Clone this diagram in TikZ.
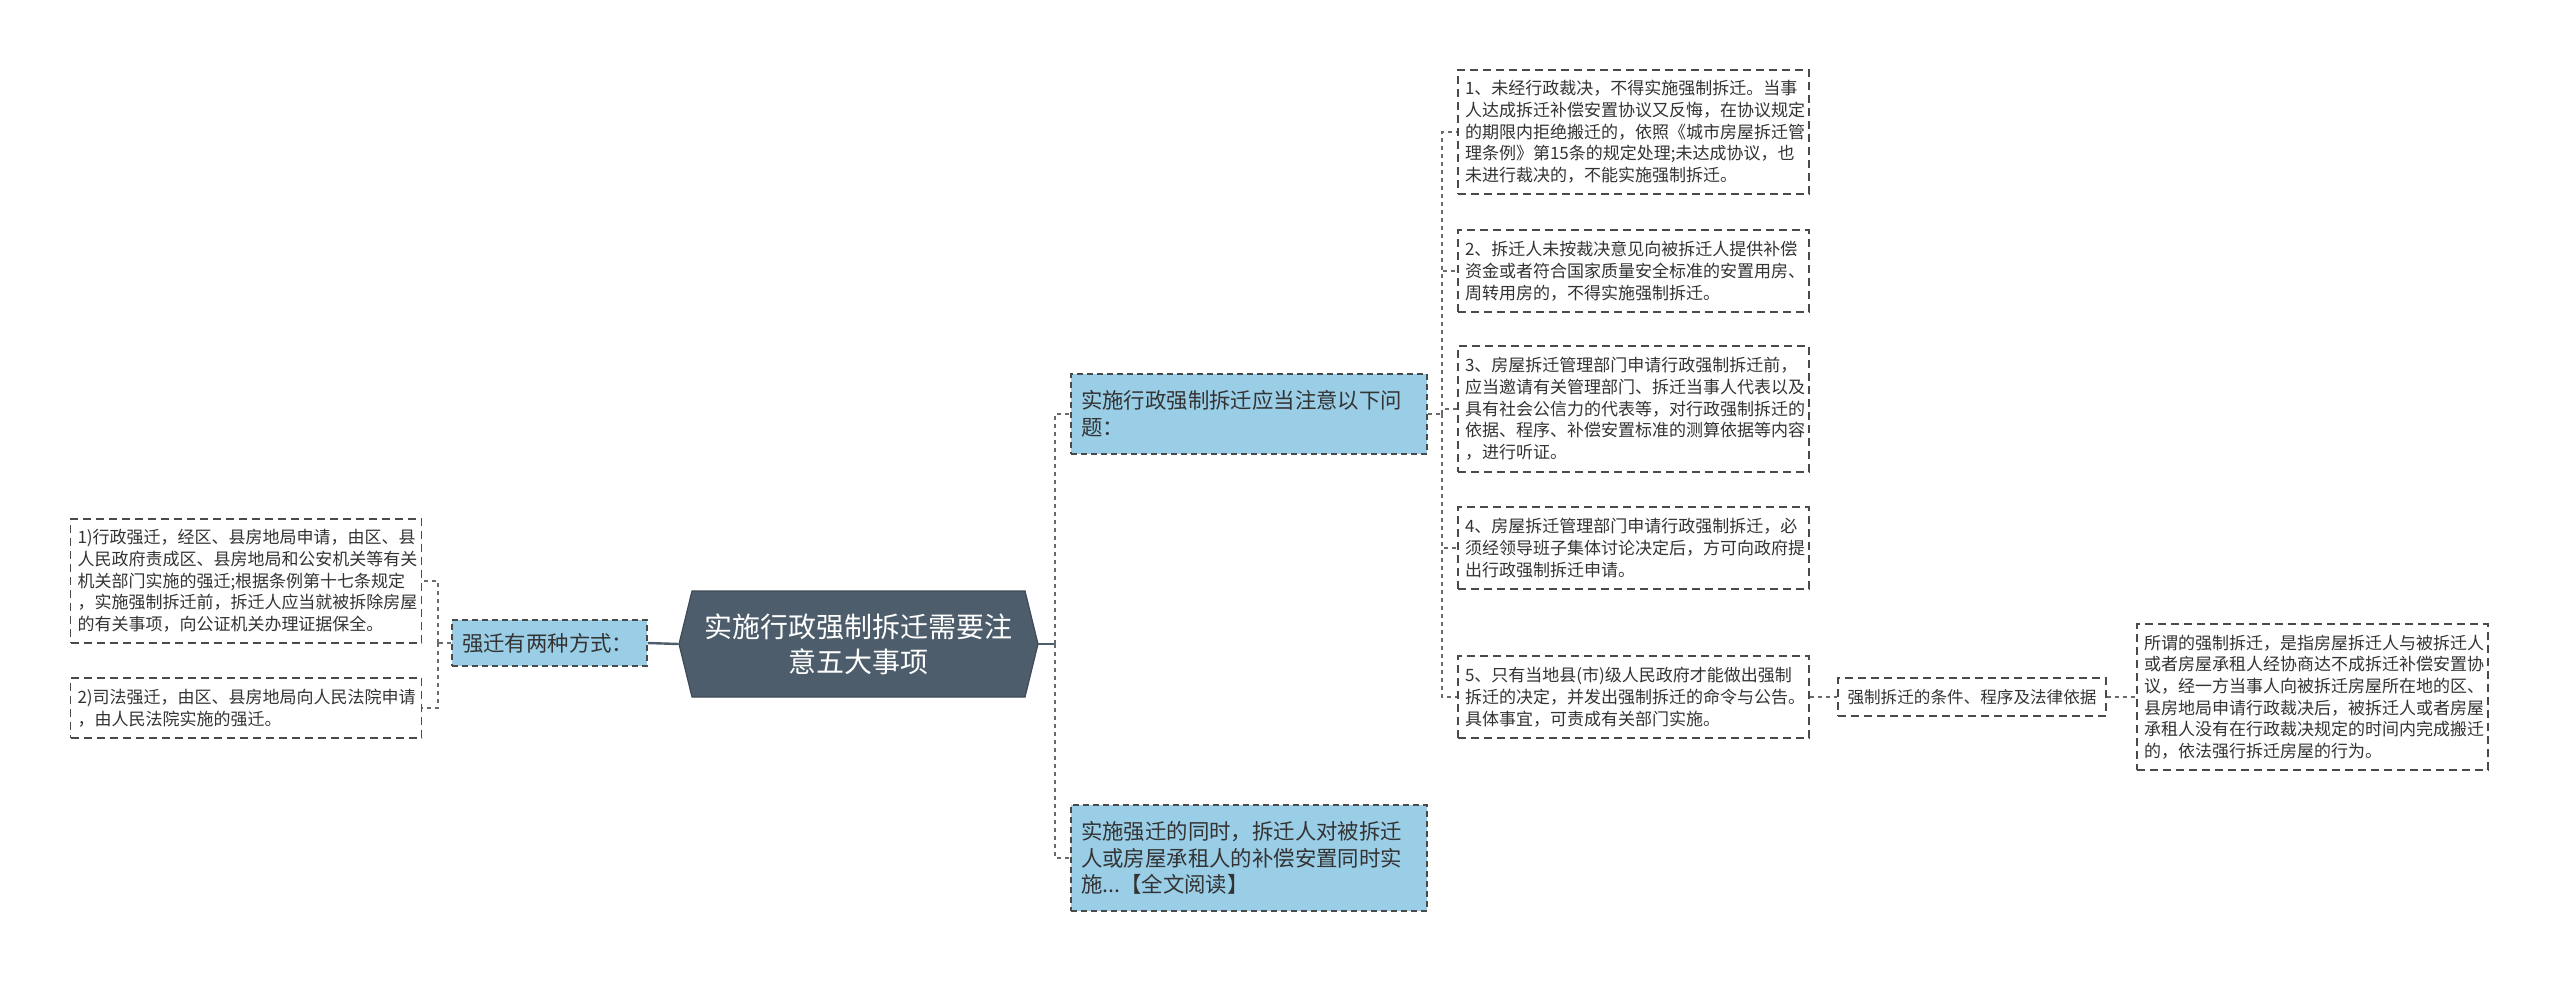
\documentclass[tikz,border=0pt]{standalone}
\usepackage{fontspec}
\newfontfamily\cjk{Noto Sans CJK SC}
\definecolor{centralfill}{HTML}{4E5D6C}
\definecolor{centralline}{HTML}{3E4A56}
\definecolor{branchfill}{HTML}{9ACDE6}
\definecolor{boxline}{HTML}{4A4A4A}
\definecolor{connc}{HTML}{6A6A6A}
\definecolor{textc}{HTML}{333333}
\begin{document}
\begin{tikzpicture}[x=0.5pt,y=-0.5pt,
  leaf/.style={draw=boxline, dash pattern=on 4pt off 2.5pt, line width=0.6pt, fill=white,
    text=textc, font=\cjk\fontsize{8.5}{10.85}\selectfont, align=left,
    text width=168.5pt, inner xsep=3.5pt, inner ysep=0pt, anchor=center},
  branch/.style={draw=boxline, dash pattern=on 3pt off 2pt, line width=0.6pt, fill=branchfill,
    text=textc, font=\cjk\fontsize{10.7}{13.4}\selectfont, align=left,
    inner xsep=5pt, inner ysep=0pt, anchor=center},
  topicbox/.style={draw=boxline, dash pattern=on 4pt off 2.5pt, line width=0.6pt, fill=white,
    text=textc, font=\cjk\fontsize{8.3}{10.5}\selectfont, inner xsep=3pt, inner ysep=0pt,
    minimum width=134pt, minimum height=19pt, anchor=center},
  conn/.style={draw=connc, line width=0.6pt, dash pattern=on 2pt off 2pt},
  mainline/.style={draw=centralfill, line width=1.2pt},
]
\useasboundingbox (0,0) rectangle (2560,985);

% central hexagon
\filldraw[fill=centralfill, draw=centralline, line width=0.6pt]
  (692,591) -- (1025,591) -- (1038,644) -- (1025,697) -- (692,697) -- (679,644) -- cycle;
\node[text=white, font=\cjk\fontsize{14}{17.5}\selectfont, align=center,
  minimum width=179.5pt, minimum height=53pt, inner sep=0pt] (c) at (858.5,644)
  {实施行政强制拆迁需要注\\意五大事项};

% left side
\node[branch, text width=87.5pt, minimum height=23pt] (q) at (549.5,643) {强迁有两种方式：};
\node[leaf, minimum height=62pt] (l1) at (246,581)
  {1)行政强迁，经区、县房地局申请，由区、县\\人民政府责成区、县房地局和公安机关等有关\\机关部门实施的强迁;根据条例第十七条规定\\，实施强制拆迁前，拆迁人应当就被拆除房屋\\的有关事项，向公证机关办理证据保全。};
\node[leaf, minimum height=30pt] (l2) at (246,708)
  {2)司法强迁，由区、县房地局向人民法院申请\\，由人民法院实施的强迁。};

% right branches
\node[branch, text width=168pt, minimum height=40pt] (b1) at (1249,414)
  {实施行政强制拆迁应当注意以下问\\题：};
\node[branch, text width=168pt, minimum height=53pt] (b2) at (1249,858)
  {实施强迁的同时，拆迁人对被拆迁\\人或房屋承租人的补偿安置同时实\\施...【全文阅读】};

% items
\node[leaf, minimum height=62pt] (i1) at (1633.5,132)
  {1、未经行政裁决，不得实施强制拆迁。当事\\人达成拆迁补偿安置协议又反悔，在协议规定\\的期限内拒绝搬迁的，依照《城市房屋拆迁管\\理条例》第15条的规定处理;未达成协议，也\\未进行裁决的，不能实施强制拆迁。};
\node[leaf, minimum height=41pt] (i2) at (1633.5,271)
  {2、拆迁人未按裁决意见向被拆迁人提供补偿\\资金或者符合国家质量安全标准的安置用房、\\周转用房的，不得实施强制拆迁。};
\node[leaf, minimum height=63pt] (i3) at (1633.5,409)
  {3、房屋拆迁管理部门申请行政强制拆迁前，\\应当邀请有关管理部门、拆迁当事人代表以及\\具有社会公信力的代表等，对行政强制拆迁的\\依据、程序、补偿安置标准的测算依据等内容\\，进行听证。};
\node[leaf, minimum height=41pt] (i4) at (1633.5,548)
  {4、房屋拆迁管理部门申请行政强制拆迁，必\\须经领导班子集体讨论决定后，方可向政府提\\出行政强制拆迁申请。};
\node[leaf, minimum height=41pt] (i5) at (1633.5,697)
  {5、只有当地县(市)级人民政府才能做出强制\\拆迁的决定，并发出强制拆迁的命令与公告。\\具体事宜，可责成有关部门实施。};

\node[topicbox] (t) at (1972,697) {强制拆迁的条件、程序及法律依据};
\node[leaf, minimum height=73pt] (d) at (2312.5,697)
  {所谓的强制拆迁，是指房屋拆迁人与被拆迁人\\或者房屋承租人经协商达不成拆迁补偿安置协\\议，经一方当事人向被拆迁房屋所在地的区、\\县房地局申请行政裁决后，被拆迁人或者房屋\\承租人没有在行政裁决规定的时间内完成搬迁\\的，依法强行拆迁房屋的行为。};

% junction coordinates
\coordinate (jl) at (438,643);
\coordinate (jr) at (1055,644);
\coordinate (jb) at (1442,414);
\coordinate (jd) at (2122,697);

% connectors
\draw[mainline] (c.west) -- (q.east);
\draw[conn] (q.west) -- (jl);
\draw[conn] (jl) |- (l1.east);
\draw[conn] (jl) |- (l2.east);

\draw[mainline] (c.east) -- (jr);
\draw[conn] (jr) |- (b1.west);
\draw[conn] (jr) |- (b2.west);

\draw[conn] (b1.east) -- (jb);
\draw[conn] (jb) |- (i1.west);
\draw[conn] (jb) |- (i2.west);
\draw[conn] (jb) |- (i3.west);
\draw[conn] (jb) |- (i4.west);
\draw[conn] (jb) |- (i5.west);

\draw[conn] (i5.east) -- (t.west);
\draw[conn] (t.east) -- (jd) |- (d.west);
\end{tikzpicture}
\end{document}
